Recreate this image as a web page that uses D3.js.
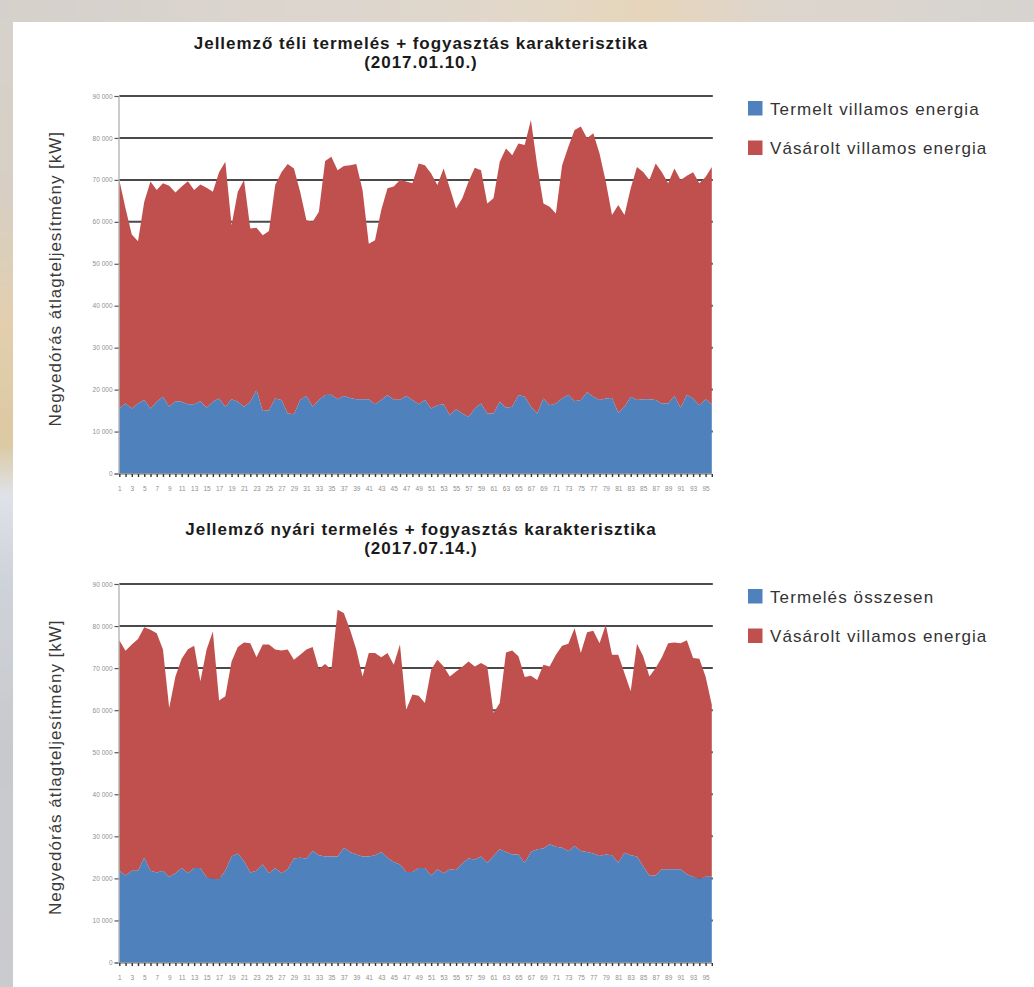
<!DOCTYPE html>
<html>
<head>
<meta charset="utf-8">
<script src="https://cdn.jsdelivr.net/npm/d3@7"></script>
<style>
  html, body { margin: 0; padding: 0; background: #fff; }
  svg { display: block; }
  text { font-family: "Liberation Sans", Arial, Helvetica, sans-serif; }
</style>
</head>
<body>
<svg id="chart" width="1034" height="987"></svg>
<script>
// Negyedórák sorszáma (1..96)
const negyedorak = d3.range(1, 97);

// Téli nap (2017.01.10.) – termelt villamos energia [kW]
const teliTermelt = [
  15500, 16700, 15500, 16700, 17500, 15500, 17100, 18300, 15900, 17200,
  17100, 16500, 16500, 17200, 15700, 17100, 17900, 15900, 17700, 17100,
  15900, 17100, 19900, 14900, 15100, 17900, 17500, 14300, 14100, 17500,
  18500, 15900, 17500, 18700, 18800, 17700, 18500, 18000, 17700, 17700,
  17700, 16500, 17500, 18700, 17600, 17600, 18500, 17500, 16500, 17500,
  15500, 16300, 16500, 13900, 15300, 14300, 13500, 15500, 16700, 14300,
  14300, 17100, 15700, 15900, 18700, 18300, 15900, 14300, 17900, 16300,
  16700, 17900, 18800, 17200, 17500, 19400, 18300, 17500, 17900, 18000,
  14500, 15900, 18300, 17500, 17700, 17700, 17500, 16700, 16700, 18500,
  15700, 18800, 17900, 16300, 17700, 16500
];

// Téli nap – teljes fogyasztás (termelt + vásárolt) [kW]
const teliFogyasztas = [
  70000, 63200, 57000, 55400, 64800, 69600, 67600, 69200, 68600, 67000,
  68400, 69700, 67600, 68900, 68100, 67200, 71800, 74300, 59200, 67200,
  70000, 58400, 58600, 56800, 57800, 68800, 71800, 73800, 72700, 67200,
  60400, 60000, 62400, 74500, 75500, 72300, 73300, 73500, 73800, 67600,
  54800, 55600, 62800, 68000, 68400, 70000, 69600, 69200, 73900, 73500,
  71500, 68800, 72700, 68000, 63200, 65600, 69600, 72900, 72300, 64400,
  65600, 74300, 77500, 75900, 78700, 78300, 84300, 73500, 64400, 63600,
  62000, 73500, 77900, 81900, 82700, 79900, 81100, 76300, 69600, 61600,
  64000, 61600, 68000, 73100, 71900, 70000, 73900, 71800, 69200, 72700,
  70000, 71000, 71800, 69200, 70700, 73100
];

// Nyári nap (2017.07.14.) – termelés összesen [kW]
const nyariTermeles = [
  21800, 20700, 21800, 21800, 24900, 21800, 21400, 21800, 20400, 21200,
  22500, 21200, 22500, 22500, 20200, 19900, 19800, 21800, 25200, 25900,
  24100, 21400, 21800, 23300, 21200, 22500, 21200, 22200, 24700, 24900,
  24700, 26500, 25500, 25200, 25200, 25200, 27300, 26300, 25700, 25200,
  25200, 25500, 26300, 24900, 23900, 23300, 21500, 21500, 22500, 22500,
  20700, 22200, 21200, 22200, 22000, 23600, 24700, 24500, 25200, 23700,
  25300, 26900, 26300, 25700, 25700, 23700, 26300, 26900, 27100, 28100,
  27500, 27300, 26500, 27700, 26500, 26300, 25900, 25300, 25700, 25500,
  23700, 26100, 25500, 25200, 22900, 20600, 20700, 22200, 22200, 22200,
  22200, 21000, 20400, 19900, 20400, 20400
];

// Nyári nap – teljes fogyasztás (termelés + vásárolt) [kW]
const nyariFogyasztas = [
  76600, 74100, 75600, 76900, 79700, 79100, 78300, 74400, 60500, 68000,
  72200, 74500, 75300, 66900, 74400, 78700, 62300, 63300, 71600, 75000,
  76100, 75900, 72600, 75600, 75600, 74400, 74200, 74400, 72000, 73200,
  74400, 75000, 69800, 71000, 69600, 83900, 83100, 79100, 74400, 68000,
  73600, 73600, 72600, 73600, 70800, 75600, 60100, 63700, 63400, 61700,
  69600, 72000, 70400, 68000, 69200, 70300, 71600, 70400, 71200, 70400,
  59300, 61700, 73700, 74200, 72800, 67900, 68200, 67200, 70800, 70400,
  73200, 75300, 75800, 79500, 73600, 78500, 78900, 75900, 80300, 73200,
  73200, 68800, 64500, 75800, 72800, 68000, 70000, 72600, 75900, 76100,
  75900, 76600, 72400, 72200, 68000, 61300
];

// Tengelyek osztásai
const yTicks = d3.range(0, 90001, 10000);

const colors = { termelt: "#4f81bd", vasarolt: "#c0504d" };
const yTitle = "Negyedórás átlagteljesítmény [kW]";

const charts = [
  {
    title: "Jellemző téli termelés + fogyasztás karakterisztika",
    date: "(2017.01.10.)",
    termelt: teliTermelt,
    osszes: teliFogyasztas,
    legend: ["Termelt villamos energia", "Vásárolt villamos energia"],
    top: 96, bottom: 473.5, titleY: 49
  },
  {
    title: "Jellemző nyári termelés + fogyasztás karakterisztika",
    date: "(2017.07.14.)",
    termelt: nyariTermeles,
    osszes: nyariFogyasztas,
    legend: ["Termelés összesen", "Vásárolt villamos energia"],
    top: 584, bottom: 962.5, titleY: 535
  }
];

const svg = d3.select("#chart");
const locale = d3.formatLocale({ decimal: ",", thousands: "\u00a0", grouping: [3], currency: ["", " Ft"] });
const fmt = locale.format(",");

// Elmosott fénykép-háttér a fehér lap körül
const defs = svg.append("defs");
defs.append("filter").attr("id", "blur").attr("x", "-20%").attr("y", "-20%").attr("width", "140%").attr("height", "140%")
  .append("feGaussianBlur").attr("stdDeviation", 4);
const gl = defs.append("linearGradient").attr("id", "leftGrad").attr("x1", 0).attr("y1", 0).attr("x2", 0).attr("y2", 1);
[[0, "#d6d2cd"], [0.2, "#d7cfc4"], [0.33, "#e2cfae"], [0.45, "#dcc9a2"], [0.5, "#dfe2e8"], [0.58, "#cfd3da"], [0.75, "#c8c9cc"], [1, "#cacbcf"]]
  .forEach(([o, c]) => gl.append("stop").attr("offset", o).attr("stop-color", c));
const gt = defs.append("linearGradient").attr("id", "topGrad").attr("x1", 0).attr("y1", 0).attr("x2", 1).attr("y2", 0);
[[0, "#d5d0cb"], [0.3, "#dcd6cf"], [0.5, "#e2d8c9"], [0.62, "#e6d5bb"], [0.75, "#ddd6ce"], [1, "#d6d3d0"]]
  .forEach(([o, c]) => gt.append("stop").attr("offset", o).attr("stop-color", c));

const bg = svg.append("g").attr("filter", "url(#blur)");
bg.append("rect").attr("x", -10).attr("y", -10).attr("width", 40).attr("height", 1010).attr("fill", "url(#leftGrad)");
bg.append("rect").attr("x", -10).attr("y", -10).attr("width", 1060).attr("height", 40).attr("fill", "url(#topGrad)");
svg.append("rect").attr("x", 13).attr("y", 22).attr("width", 1030).attr("height", 980).attr("fill", "#ffffff");

const x = d3.scaleLinear().domain([1, 96]).range([119.3, 711.8]);

charts.forEach(ch => {
  const g = svg.append("g");
  const y = d3.scaleLinear().domain([0, 90000]).range([ch.bottom, ch.top]);

  // Cím
  g.append("text").attr("x", 421).attr("y", ch.titleY).attr("text-anchor", "middle")
    .attr("font-size", 17).attr("font-weight", "bold").attr("letter-spacing", 0.95)
    .attr("fill", "#1a1a1a").text(ch.title);
  g.append("text").attr("x", 421).attr("y", ch.titleY + 19).attr("text-anchor", "middle")
    .attr("font-size", 17).attr("font-weight", "bold").attr("letter-spacing", 0.95)
    .attr("fill", "#1a1a1a").text(ch.date);

  // Vízszintes rácsvonalak
  g.append("g").selectAll("line").data(yTicks.filter(d => d > 0)).join("line")
    .attr("x1", x(1)).attr("x2", x(96) + 1)
    .attr("y1", d => y(d)).attr("y2", d => y(d))
    .attr("stroke", "#4a4a4a").attr("stroke-width", 2);

  // Halmozott területek: termelt (alul) + vásárolt (felül)
  const rows = negyedorak.map((n, i) => ({ n, termelt: ch.termelt[i], osszes: ch.osszes[i] }));
  g.append("path").datum(rows)
    .attr("fill", colors.vasarolt)
    .attr("d", d3.area().x(d => x(d.n)).y0(d => y(d.termelt)).y1(d => y(d.osszes)));
  g.append("path").datum(rows)
    .attr("fill", colors.termelt)
    .attr("d", d3.area().x(d => x(d.n)).y0(y(0)).y1(d => y(d.termelt)));

  // Y tengely
  const ya = g.append("g").attr("transform", `translate(${x(1) - 0.8},0)`)
    .call(d3.axisLeft(y).tickValues(yTicks).tickSize(4).tickPadding(2).tickFormat(fmt));
  ya.select(".domain").attr("stroke", "#aaaaaa").attr("stroke-width", 1.2);
  ya.selectAll(".tick line").attr("stroke", "#555").attr("stroke-width", 1.2);
  ya.selectAll(".tick text").attr("font-size", 6.5).attr("fill", "#8f8f8f")
    .style("font-family", '"Liberation Sans", Arial, sans-serif');

  // X tengely
  const xa = g.append("g").attr("transform", `translate(0,${ch.bottom + 0.5})`)
    .call(d3.axisBottom(x).tickValues(negyedorak).tickSize(3).tickPadding(9)
      .tickFormat(d => (d % 2 === 1 ? String(d) : "")));
  xa.select(".domain").attr("stroke", "#666").attr("stroke-width", 1).attr("d", `M${x(1)},0H${x(96)}`);
  xa.selectAll(".tick line").attr("stroke", "#333").attr("stroke-width", 1.4);
  xa.selectAll(".tick text").attr("font-size", 6.5).attr("fill", "#8f8f8f")
    .style("font-family", '"Liberation Sans", Arial, sans-serif');

  // Y tengely címe
  const midY = (ch.top + ch.bottom) / 2 - 6;
  g.append("text").attr("transform", `translate(61,${midY}) rotate(-90)`)
    .attr("text-anchor", "middle").attr("font-size", 17).attr("letter-spacing", 1.0)
    .attr("fill", "#3a3a3a").text(yTitle);

  // Jelmagyarázat
  const lg = g.append("g").attr("transform", `translate(748,${ch.top + 5})`);
  ch.legend.forEach((label, i) => {
    const row = lg.append("g").attr("transform", `translate(0,${i * 39.5})`);
    row.append("rect").attr("x", 0).attr("y", 0).attr("width", 14.5).attr("height", 14.5)
      .attr("fill", i === 0 ? colors.termelt : colors.vasarolt);
    row.append("text").attr("x", 22).attr("y", 13.5).attr("font-size", 17).attr("letter-spacing", 1.1)
      .attr("fill", "#333").text(label);
  });
});
</script>
</body>
</html>
